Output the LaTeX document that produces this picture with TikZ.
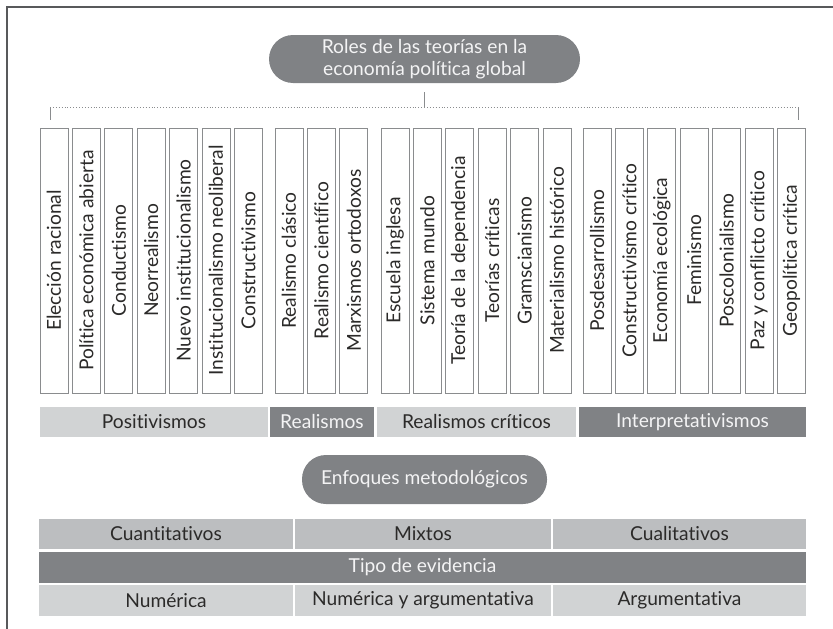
\documentclass[tikz,border=0pt]{standalone}
\usepackage{fontspec}
\setmainfont{Lato}[Ligatures=NoCommon]
\definecolor{cPill}{HTML}{808285}
\definecolor{cLight}{HTML}{D1D3D4}
\definecolor{cMid}{HTML}{BCBEC0}
\definecolor{cInk}{HTML}{2B2A29}
\definecolor{cPale}{HTML}{F4F4F5}
\definecolor{cLine}{HTML}{8A8C8E}
\definecolor{cFrame}{HTML}{58595B}
\newcommand{\labfont}{\fontsize{19.2}{21.5}\selectfont}
\begin{document}
\begin{tikzpicture}[x=1pt,y=-1pt,
  every node/.style={font=\labfont},
  pill/.style={fill=cPill, rounded corners=24pt, text=cPale, align=center, inner sep=0pt},
  colbox/.style={draw=cLine, line width=0.9pt, fill=white, rotate=90,
    minimum width=265pt, minimum height=28pt, inner sep=0pt, text=cInk},
  bar/.style={inner sep=0pt, minimum height=30pt},
  lightbar/.style={bar, fill=cLight, text=cInk},
  midbar/.style={bar, fill=cMid, text=cInk},
  darkbar/.style={bar, fill=cPill, text=cPale},
  tick/.style={draw=cLine, line width=0.9pt},
  dots/.style={draw=cLine, line width=0.9pt, dotted}
]
\useasboundingbox (0,0) rectangle (833,629);
% partial frame: left and top edges
\draw[cFrame, line width=1.6pt] (7,629) -- (7,7) -- (833,7);

% heading
\node[pill, minimum width=311pt, minimum height=48pt] (roles) at (424.5,59)
  {Roles de las teorías en la\\economía política global};

% bracket below the heading
\coordinate (hub) at (424.5,107);
\coordinate (bl) at (50,107);
\coordinate (br) at (798,107);
\coordinate (blend) at (50,120);
\coordinate (brend) at (798,120);
\draw[tick] ([yshift=-9pt]roles.south) -- (hub);
\draw[dots] (bl) -- (br);
\draw[tick] (bl) -- (blend);
\draw[tick] (br) -- (brend);

% theory columns, four groups
\foreach \t [count=\i from 0] in {Elección racional, Política económica abierta,
  Conductismo, Neorrealismo, Nuevo institucionalismo,
  Institucionalismo neoliberal, Constructivismo}
  \node[colbox] (pos\i) at (54+32.4*\i,260.5) {\t};
\foreach \t [count=\i from 0] in {Realismo clásico, Realismo científico, Marxismos ortodoxos}
  \node[colbox] (rea\i) at (289+32.4*\i,260.5) {\t};
\foreach \t [count=\i from 0] in {Escuela inglesa, Sistema mundo, Teoría de la dependencia,
  Teorías críticas, Gramscianismo, Materialismo histórico}
  \node[colbox] (cri\i) at (395+32.4*\i,260.5) {\t};
\foreach \t [count=\i from 0] in {Posdesarrollismo, Constructivismo crítico,
  Economía ecológica, Feminismo, Poscolonialismo, Paz y conflicto crítico,
  Geopolítica crítica}
  \node[colbox] (int\i) at (597+32.4*\i,260.5) {\t};

% family bars
\node[lightbar, minimum width=228pt] (positivismos) at (154,422) {Positivismos};
\node[darkbar, minimum width=104pt] (realismos) at (322,422) {Realismos};
\node[lightbar, minimum width=199pt] (criticos) at (476.5,422) {Realismos críticos};
\node[darkbar, minimum width=227pt] (interp) at (692.5,422) {Interpretativismos};

% methodological approaches
\node[pill, minimum width=245pt, minimum height=49pt] (enfoques) at (424.5,479.5)
  {Enfoques metodológicos};

\node[midbar, minimum width=254pt] (cuanti) at (166,534) {Cuantitativos};
\node[midbar, minimum width=256pt] (mixtos) at (423,534) {Mixtos};
\node[midbar, minimum width=253pt] (cuali) at (679.5,534) {Cualitativos};
\node[darkbar, minimum width=767pt, minimum height=31pt] (tipo) at (422.5,567.5) {Tipo de evidencia};
\node[lightbar, minimum width=254pt, minimum height=31pt] (num) at (166,600.5) {Numérica};
\node[lightbar, minimum width=256pt, minimum height=31pt] (numarg) at (423,600.5) {Numérica y argumentativa};
\node[lightbar, minimum width=253pt, minimum height=31pt] (arg) at (679.5,600.5) {Argumentativa};
\end{tikzpicture}
\end{document}
